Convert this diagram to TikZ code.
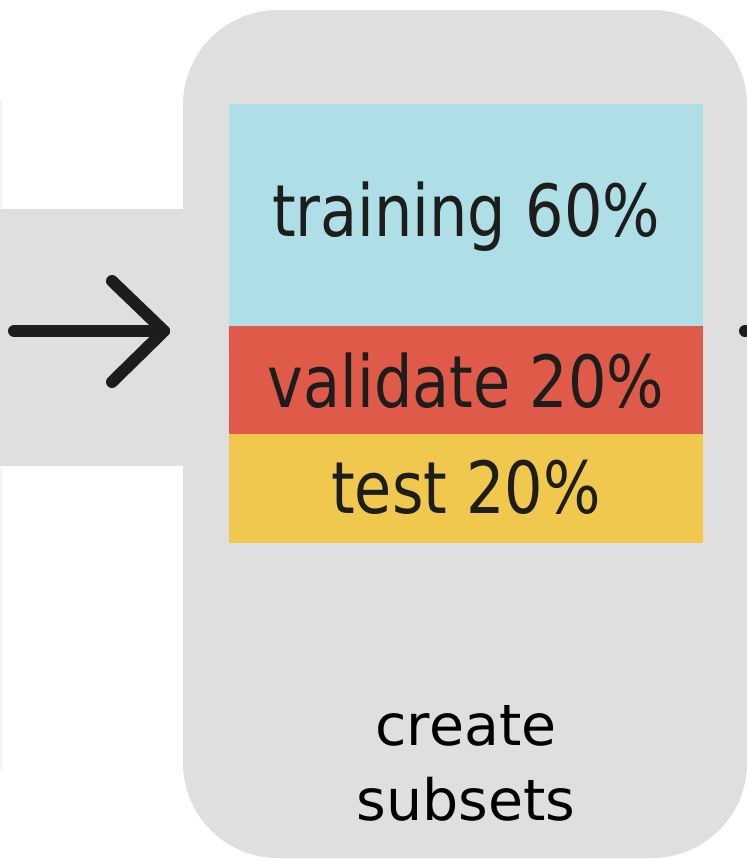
\documentclass[tikz,border=0pt]{standalone}
\usepackage{fontspec}
\setmainfont{DejaVu Sans}
\definecolor{panelgray}{HTML}{DFDFDF}
\definecolor{edgegray}{HTML}{F4F4F4}
\definecolor{trainblue}{HTML}{AEDFE6}
\definecolor{validred}{HTML}{DF5A49}
\definecolor{testyellow}{HTML}{F0C84D}
\definecolor{inkdark}{HTML}{1D1D1B}
\tikzset{
  panel/.style={fill=panelgray, draw=none},
  band/.style={fill=#1, draw=none, inner sep=0pt, minimum width=474pt, anchor=north west},
  splitlabel/.style={anchor=base, inner sep=0pt, text=inkdark,
    font=\fontsize{72}{72}\selectfont},
  steplabel/.style={anchor=base, inner sep=0pt, text=black,
    font=\fontsize{57}{57}\selectfont},
  arrowline/.style={draw=inkdark, line width=12pt, line cap=round, line join=round}
}
\newcommand{\narrow}[1]{\scalebox{0.84}[1]{#1}}
\begin{document}
\begin{tikzpicture}[x=1pt, y=-1pt]
  \useasboundingbox (0,0) rectangle (747,860);
  % faint edge of the preceding panel
  \fill[edgegray] (0,100) rectangle (1.5,770);
  % connector band and the step panel
  \fill[panel] (0,209) rectangle (195,466);
  \fill[panel, rounded corners=95pt] (183,10) rectangle (747,858);
  % the three subsets
  \node[band=trainblue, minimum height=222pt] (train) at (229,104) {};
  \node[band=validred, minimum height=108pt] (valid) at (229,326) {};
  \node[band=testyellow, minimum height=109pt] (test) at (229,434) {};
  \node[splitlabel] (trainlbl) at (466,236) {\narrow{training 60\%}};
  \node[splitlabel] (validlbl) at (466,407) {\narrow{validate 20\%}};
  \node[splitlabel] (testlbl) at (466,513) {\narrow{test 20\%}};
  % step caption
  \node[steplabel] (cap1) at (466,745) {create};
  \node[steplabel] (cap2) at (466,820) {subsets};
  % incoming arrow
  \coordinate (astart) at (14,331);
  \coordinate (atip) at (164,331);
  \coordinate (armtop) at (112,281);
  \coordinate (armbot) at (112,382);
  \draw[arrowline] (astart) -- (atip);
  \draw[arrowline] (armtop) -- (atip) -- (armbot);
  % start of the outgoing arrow
  \coordinate (outdot) at (745,331);
  \fill[inkdark] (outdot) circle (6pt);
\end{tikzpicture}
\end{document}
